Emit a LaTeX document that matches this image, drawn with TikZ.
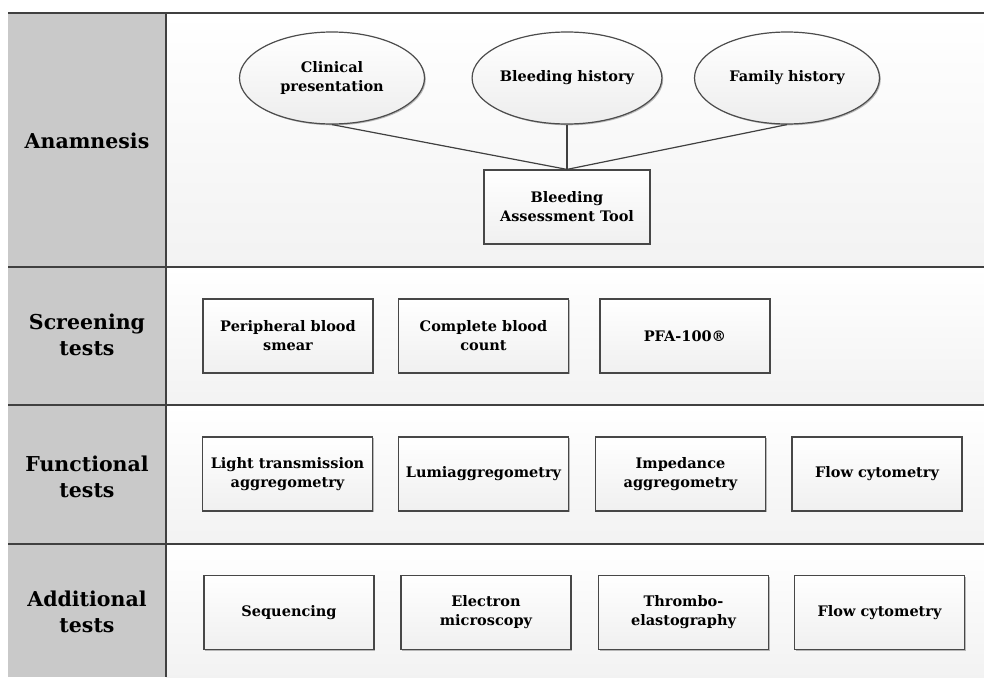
\documentclass[tikz,border=0pt]{standalone}
\usepackage{fontspec}
\setmainfont{DejaVu Serif}
\usetikzlibrary{shadows,shapes.geometric}
\begin{document}
\begin{tikzpicture}[x=1pt,y=-1pt,
  lbl/.style={font=\bfseries\fontsize{20.5}{26}\selectfont, align=center, text=black},
  boxtxt/.style={font=\bfseries\fontsize{14.5}{19}\selectfont, align=center, text=black},
  testbox/.style={boxtxt, draw=black!72, line width=1.2pt, top color=white, bottom color=black!6,
     drop shadow={shadow xshift=1.3pt, shadow yshift=-1.3pt, fill=black!45, opacity=0.6},
     minimum width=170pt, minimum height=74pt, inner sep=0pt},
  ovalnode/.style={boxtxt, ellipse, draw=black!70, line width=1.2pt, top color=white, bottom color=black!7,
     drop shadow={shadow xshift=1.3pt, shadow yshift=-1.3pt, fill=black!45, opacity=0.6},
     minimum width=185pt, minimum height=92pt, inner sep=0pt},
  rule/.style={draw=black!75, line width=1.3pt},
  conn/.style={draw=black!75, line width=1.2pt}
]
\useasboundingbox (0,0) rectangle (984,677);
\fill[white] (0,0) rectangle (984,677);
% left column
\fill[black!21] (8,13) rectangle (166,677);
% right panels
\shade[top color=white, bottom color=black!5] (166,13) rectangle (984,267);
\shade[top color=white, bottom color=black!5] (166,267) rectangle (984,405);
\shade[top color=white, bottom color=black!5] (166,405) rectangle (984,544);
\shade[top color=white, bottom color=black!5] (166,544) rectangle (984,677);
% rules
\draw[rule] (8,13) -- (984,13);
\draw[rule] (8,267) -- (984,267);
\draw[rule] (8,405) -- (984,405);
\draw[rule] (8,544) -- (984,544);
\draw[rule] (166,13) -- (166,677);

% labels
\node[lbl] (lanam) at (87,141) {Anamnesis};
\node[lbl] (lscr) at (87,335) {Screening\\tests};
\node[lbl] (lfun) at (87,477) {Functional\\tests};
\node[lbl] (ladd) at (87,612) {Additional\\tests};

% anamnesis
\node[ovalnode] (clin) at (332,78) {Clinical\\presentation};
\node[ovalnode] (bleed) at (567,78) {Bleeding history};
\node[ovalnode] (fam) at (787,78) {Family history};
\node[testbox, minimum width=166pt] (bat) at (567,207) {Bleeding\\Assessment Tool};
\draw[conn] (clin.south) -- (bat.north);
\draw[conn] (bleed.south) -- (bat.north);
\draw[conn] (fam.south) -- (bat.north);

% screening
\node[testbox] (pbs) at (288,336) {Peripheral blood\\smear};
\node[testbox] (cbc) at (483.5,336) {Complete blood\\count};
\node[testbox] (pfa) at (685,336) {PFA-100®};

% functional
\node[testbox] (lta) at (287.5,474) {Light transmission\\aggregometry};
\node[testbox] (lumi) at (483.5,474) {Lumiaggregometry};
\node[testbox] (imp) at (680.5,474) {Impedance\\aggregometry};
\node[testbox] (flow1) at (877,474) {Flow cytometry};

% additional
\node[testbox] (seq) at (289,612.5) {Sequencing};
\node[testbox] (em) at (486,612.5) {Electron\\microscopy};
\node[testbox] (teg) at (683.5,612.5) {Thrombo-\\elastography};
\node[testbox] (flow2) at (879.5,612.5) {Flow cytometry};
\end{tikzpicture}
\end{document}
